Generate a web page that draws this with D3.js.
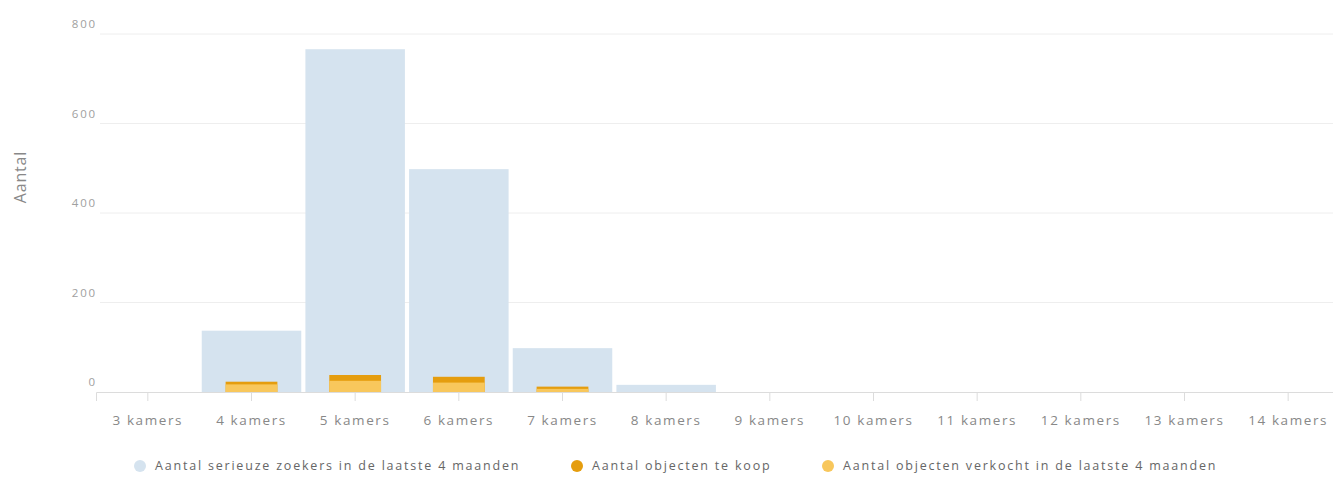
<!DOCTYPE html>
<html>
<head>
<meta charset="utf-8">
<script src="https://cdn.jsdelivr.net/npm/d3@7"></script>
<style>
  html, body { margin: 0; padding: 0; background: #fff; }
  svg { display: block; font-family: "Open Sans", Lato, sans-serif; }
</style>
</head>
<body>
<svg id="chart" width="1333" height="479"></svg>
<script>
// Rooms categories and counts per series
const categories = ["3 kamers", "4 kamers", "5 kamers", "6 kamers", "7 kamers", "8 kamers",
                    "9 kamers", "10 kamers", "11 kamers", "12 kamers", "13 kamers", "14 kamers"];
const zoekers   = [0, 137, 766, 498, 98, 16, 0, 0, 0, 0, 0, 0];
const teKoop    = [0, 23, 38, 34, 12, 0, 0, 0, 0, 0, 0, 0];
const verkocht  = [0, 17, 25, 21, 7, 0, 0, 0, 0, 0, 0, 0];
const yTicks    = [0, 200, 400, 600, 800];
const seriesNames = [
  "Aantal serieuze zoekers in de laatste 4 maanden",
  "Aantal objecten te koop",
  "Aantal objecten verkocht in de laatste 4 maanden"
];
const colors = ["#d5e3ef", "#e59d0e", "#f8c75c"];

const svg = d3.select("#chart");
const plotLeft = 96, plotRight = 1340, plotTop = 34, plotBottom = 392;

const x = d3.scaleBand().domain(categories).range([plotLeft, plotRight]).paddingInner(0.04).paddingOuter(0.02);
const y = d3.scaleLinear().domain([0, 800]).range([plotBottom, plotTop]);

// Horizontal gridlines with labels sitting above each line
const grid = svg.append("g");
yTicks.forEach(t => {
  if (t > 0) {
    grid.append("line")
      .attr("x1", 100).attr("x2", 1333)
      .attr("y1", y(t)).attr("y2", y(t))
      .attr("stroke", "#eeeeee").attr("stroke-width", 1);
  }
  grid.append("text")
    .attr("x", 97).attr("y", y(t) - 9)
    .attr("text-anchor", "end").attr("dominant-baseline", "middle")
    .attr("font-size", 11.5).attr("letter-spacing", 1.8).attr("fill", "#a0a0a0")
    .text(t);
});

// Axis title
svg.append("text")
  .attr("transform", "translate(22,177) rotate(-90)")
  .attr("text-anchor", "middle").attr("dominant-baseline", "middle")
  .attr("font-size", 16).attr("letter-spacing", 0.8).attr("fill", "#888")
  .text("Aantal");

// Seekers: wide bars
svg.append("g").selectAll("rect").data(categories).join("rect")
  .attr("x", d => x(d))
  .attr("width", x.bandwidth())
  .attr("y", (d, i) => y(zoekers[i]))
  .attr("height", (d, i) => plotBottom - y(zoekers[i]))
  .attr("fill", colors[0]);

// For sale and sold: narrower overlapping bars
const inner = x.bandwidth() * 0.52;
const off = (x.bandwidth() - inner) / 2;
[[teKoop, colors[1]], [verkocht, colors[2]]].forEach(([vals, c]) => {
  svg.append("g").selectAll("rect").data(categories).join("rect")
    .attr("x", d => x(d) + off)
    .attr("width", inner)
    .attr("y", (d, i) => y(vals[i]))
    .attr("height", (d, i) => plotBottom - y(vals[i]))
    .attr("fill", c);
});

// X axis
const xAxis = d3.axisBottom(x).tickSize(9).tickPadding(14);
const ax = svg.append("g").attr("transform", `translate(0,${plotBottom})`).call(xAxis);
ax.select(".domain").attr("stroke", "#dcdcdc");
ax.selectAll(".tick line").attr("stroke", "#dcdcdc");
ax.selectAll(".tick text").attr("font-size", 13.5).attr("letter-spacing", 1.6).attr("fill", "#888")
  .attr("font-family", "'Open Sans', Lato, sans-serif");

// Legend
const legendX = [140, 577, 828];
const lg = svg.append("g");
seriesNames.forEach((name, i) => {
  lg.append("circle").attr("cx", legendX[i]).attr("cy", 466).attr("r", 6).attr("fill", colors[i]);
  lg.append("text").attr("x", legendX[i] + 15).attr("y", 467)
    .attr("dominant-baseline", "middle")
    .attr("font-size", 12.5).attr("letter-spacing", 1.8).attr("fill", "#666")
    .text(name);
});
</script>
</body>
</html>
